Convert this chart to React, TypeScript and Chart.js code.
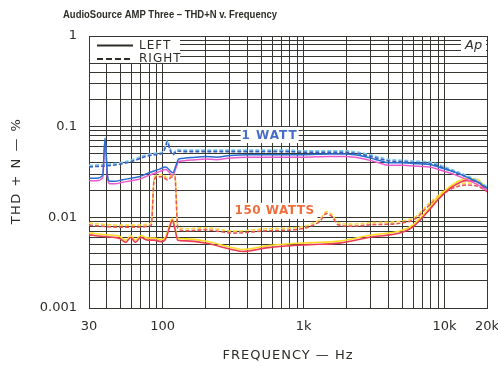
import React, { useEffect, useRef } from "react";
import { Chart, registerables } from "chart.js";

Chart.register(...registerables);

const TITLE = "AudioSource AMP Three – THD+N v. Frequency";
const X_TITLE = "FREQUENCY — Hz";
const Y_TITLE = "THD + N — %";
const LEGEND_LABELS = ["LEFT", "RIGHT"];
const LABEL_1W = "1 WATT";
const LABEL_150W = "150 WATTS";

const xLabelValues = [30, 100, 1000, 10000, 20000];
const xLabelTexts = ["30", "100", "1k", "10k", "20k"];
const yLabelValues = [0.001, 0.01, 0.1, 1];
const yLabelTexts = ["0.001", "0.01", "0.1", "1"];

const xGrid = [
  30, 40, 50, 60, 70, 80, 90,
  100, 200, 300, 400, 500, 600, 700, 800, 900,
  1000, 2000, 3000, 4000, 5000, 6000, 7000, 8000, 9000,
  10000, 20000,
];
const yGrid = [
  0.001, 0.002, 0.003, 0.004, 0.005, 0.006, 0.007, 0.008, 0.009,
  0.01, 0.02, 0.03, 0.04, 0.05, 0.06, 0.07, 0.08, 0.09,
  0.1, 0.2, 0.3, 0.4, 0.5, 0.6, 0.7, 0.8, 0.9,
  1,
];

// 1 WATT, LEFT (solid)
const freq1L = [30, 34, 37.5, 39, 40.5, 42, 46, 52, 60, 68, 76, 85, 95, 105, 112, 118, 124, 130, 145, 170, 200, 240, 300, 400, 600, 800, 1000, 1500, 2000, 2500, 3000, 3500, 4000, 5000, 6500, 8000, 9500, 11500, 13500, 15000, 17500, 20000];
const thd1L = [0.027, 0.027, 0.029, 0.075, 0.03, 0.025, 0.025, 0.026, 0.027, 0.028, 0.03, 0.032, 0.034, 0.036, 0.033, 0.031, 0.037, 0.044, 0.045, 0.046, 0.047, 0.046, 0.048, 0.049, 0.049, 0.049, 0.049, 0.05, 0.05, 0.048, 0.045, 0.042, 0.04, 0.04, 0.039, 0.038, 0.035, 0.032, 0.029, 0.027, 0.024, 0.021];

// 1 WATT, RIGHT (dashed)
const freq1R = [30, 40, 52, 65, 76, 88, 100, 104, 108, 112, 118, 127, 140, 170, 200, 300, 500, 800, 1000, 1500, 2000, 2500, 3000, 3500, 4000, 5000, 6500, 8000, 9500, 11500, 13500, 15000, 17500, 20000];
const thd1R = [0.036, 0.037, 0.039, 0.043, 0.047, 0.049, 0.051, 0.058, 0.068, 0.057, 0.049, 0.054, 0.053, 0.053, 0.053, 0.053, 0.053, 0.053, 0.052, 0.052, 0.052, 0.05, 0.047, 0.044, 0.042, 0.041, 0.04, 0.039, 0.036, 0.032, 0.029, 0.027, 0.024, 0.021];

// 150 WATTS, LEFT (solid)
const freq150L = [30, 39.5, 49, 54.7, 59.3, 64, 69.8, 78, 87, 97, 105, 112, 117, 122, 128, 146, 200, 314, 370, 544, 710, 1100, 1800, 3100, 4800, 6000, 7400, 9200, 11500, 14200, 17100, 20000];
const thd150L = [0.0064, 0.0061, 0.0059, 0.0053, 0.006, 0.0053, 0.006, 0.0056, 0.0056, 0.0054, 0.0058, 0.0078, 0.0093, 0.0075, 0.0056, 0.0055, 0.0052, 0.0044, 0.0042, 0.0046, 0.0048, 0.005, 0.0052, 0.0061, 0.0067, 0.0079, 0.011, 0.0163, 0.022, 0.0254, 0.0249, 0.019];

// 150 WATTS, RIGHT (dashed)
const freq150R = [30, 49, 64, 83, 87, 92, 100, 108, 117, 122, 128, 146, 200, 314, 544, 933, 1100, 1300, 1450, 1600, 1750, 2200, 3100, 4800, 6300, 7400, 9200, 11500, 14200, 17100, 20000];
const thd150R = [0.0082, 0.0078, 0.0078, 0.0082, 0.026, 0.028, 0.028, 0.0259, 0.028, 0.028, 0.0076, 0.0071, 0.0073, 0.0067, 0.0071, 0.0074, 0.0079, 0.009, 0.011, 0.0101, 0.0083, 0.008, 0.0083, 0.0086, 0.0098, 0.0126, 0.017, 0.021, 0.0227, 0.022, 0.0195];

const toPoints = (xs: number[], ys: number[]) => xs.map((x, i) => ({ x, y: ys[i] }));

const INK = "rgb(45,45,40)";
const GRID = "rgb(55,55,50)";

const shadowPlugin = {
  id: "lineShadow",
  beforeDatasetDraw(chart: any, args: any) {
    const ds = chart.data.datasets[args.index];
    const ctx = chart.ctx;
    ctx.save();
    ctx.shadowColor = ds.shadowColor || "transparent";
    ctx.shadowOffsetX = 0;
    ctx.shadowOffsetY = ds.shadowOffsetY || 0;
    ctx.shadowBlur = 0;
  },
  afterDatasetDraw(chart: any) {
    chart.ctx.restore();
  },
};

const decorPlugin = {
  id: "decor",
  beforeDatasetsDraw(chart: any) {
    const { ctx, chartArea: a, scales } = chart;
    const xs = scales.x;
    const ys = scales.y;
    ctx.save();
    // legend box
    ctx.fillStyle = "#fff";
    ctx.fillRect(a.left + 1, a.top + 1, 90, 26);
    ctx.strokeStyle = INK;
    ctx.lineWidth = 2;
    ctx.beginPath();
    ctx.moveTo(a.left + 8, a.top + 9.5);
    ctx.lineTo(a.left + 44, a.top + 9.5);
    ctx.stroke();
    ctx.setLineDash([6, 3]);
    ctx.beginPath();
    ctx.moveTo(a.left + 8, a.top + 23);
    ctx.lineTo(a.left + 44, a.top + 23);
    ctx.stroke();
    ctx.setLineDash([]);
    ctx.fillStyle = INK;
    ctx.font = "12px 'DejaVu Sans'";
    (ctx as any).letterSpacing = "1px";
    ctx.textAlign = "left";
    ctx.textBaseline = "middle";
    ctx.fillText(LEGEND_LABELS[0], a.left + 50, a.top + 10);
    ctx.fillText(LEGEND_LABELS[1], a.left + 50, a.top + 23);
    (ctx as any).letterSpacing = "0px";

    // Ap logo
    ctx.fillStyle = "#fff";
    ctx.fillRect(a.right - 26, a.top + 1, 25, 19);
    ctx.fillStyle = INK;
    ctx.font = "italic 13px 'DejaVu Sans'";
    ctx.fillText("Ap", a.right - 22, a.top + 10);

    // 1 WATT label
    const x1 = xs.getPixelForValue(574);
    const y1 = ys.getPixelForValue(0.081);
    ctx.fillStyle = "#fff";
    ctx.fillRect(x1 - 29, y1 - 8, 58, 16);
    ctx.fillStyle = "rgb(70,110,200)";
    ctx.font = "bold 12px 'DejaVu Sans'";
    (ctx as any).letterSpacing = "1px";
    ctx.textAlign = "center";
    ctx.fillText(LABEL_1W, x1, y1 + 0.5);

    // 150 WATTS label
    const x2 = xs.getPixelForValue(622);
    const y2 = ys.getPixelForValue(0.0118);
    ctx.fillStyle = "#fff";
    ctx.fillRect(x2 - 43, y2 - 8, 86, 16);
    ctx.fillStyle = "rgb(240,110,60)";
    (ctx as any).letterSpacing = "0.5px";
    ctx.fillText(LABEL_150W, x2, y2 + 0.5);
    (ctx as any).letterSpacing = "0px";
    ctx.restore();
  },
  afterDraw(chart: any) {
    const { ctx, chartArea: a } = chart;
    ctx.save();
    ctx.fillStyle = INK;
    ctx.textBaseline = "middle";
    // title
    ctx.font = "bold 10px 'Liberation Sans'";
    ctx.textAlign = "left";
    ctx.fillText(TITLE, 63, 15, 214);
    // x title
    ctx.font = "13px 'DejaVu Sans'";
    (ctx as any).letterSpacing = "1px";
    ctx.textAlign = "center";
    ctx.fillText(X_TITLE, (a.left + a.right) / 2, 356);
    // y title
    ctx.translate(17, 171);
    ctx.rotate(-Math.PI / 2);
    (ctx as any).letterSpacing = "1.5px";
    ctx.fillText(Y_TITLE, 0, 0);
    ctx.restore();
  },
};

export default function App() {
  const ref = useRef<HTMLCanvasElement>(null);
  useEffect(() => {
    if (!ref.current) return;
    const chart = new Chart(ref.current, {
      type: "line",
      data: {
        datasets: [
          {
            label: "1 W Left",
            data: toPoints(freq1L, thd1L),
            borderColor: "rgb(40,110,205)",
            borderWidth: 1.5,
            shadowColor: "rgb(235,90,205)",
            shadowOffsetY: 2.5,
          } as any,
          {
            label: "1 W Right",
            data: toPoints(freq1R, thd1R),
            borderColor: "rgb(60,95,190)",
            borderWidth: 1.6,
            borderDash: [4, 2],
            shadowColor: "rgb(120,200,235)",
            shadowOffsetY: -1.5,
          } as any,
          {
            label: "150 W Left",
            data: toPoints(freq150L, thd150L),
            borderColor: "rgb(235,60,85)",
            borderWidth: 1.6,
            shadowColor: "rgb(255,220,40)",
            shadowOffsetY: -2,
          } as any,
          {
            label: "150 W Right",
            data: toPoints(freq150R, thd150R),
            borderColor: "rgb(235,85,80)",
            borderWidth: 1.6,
            borderDash: [4, 2],
            shadowColor: "rgb(255,215,60)",
            shadowOffsetY: -2,
          } as any,
        ],
      },
      options: {
        responsive: false,
        animation: false,
        events: [],
        elements: {
          point: { radius: 0 },
          line: { cubicInterpolationMode: "monotone", fill: false },
        },
        layout: { padding: { top: 36, right: 0, left: 0, bottom: 0 } },
        plugins: {
          legend: { display: false },
          title: { display: false },
          tooltip: { enabled: false },
        },
        scales: {
          x: {
            type: "logarithmic",
            min: 30,
            max: 20000,
            afterBuildTicks: (scale: any) => {
              scale.ticks = xGrid.map((v) => ({ value: v }));
            },
            afterFit: (scale: any) => {
              scale.height = 58;
              scale.paddingLeft = 0;
              scale.paddingRight = 11;
            },
            grid: { color: GRID, lineWidth: 1, drawTicks: false },
            border: { color: GRID, width: 1 },
            ticks: {
              autoSkip: false,
              maxRotation: 0,
              padding: 11,
              color: INK,
              font: { family: "'DejaVu Sans'", size: 13 },
              callback: (value: any) => {
                const i = xLabelValues.indexOf(Number(value));
                return i >= 0 ? xLabelTexts[i] : "";
              },
            },
          },
          y: {
            type: "logarithmic",
            min: 0.001,
            max: 1,
            afterBuildTicks: (scale: any) => {
              scale.ticks = yGrid.map((v) => ({ value: v }));
            },
            afterFit: (scale: any) => {
              scale.width = 89;
              scale.paddingTop = 0;
              scale.paddingBottom = 0;
            },
            grid: { color: GRID, lineWidth: 1, drawTicks: false },
            border: { color: GRID, width: 1 },
            ticks: {
              autoSkip: false,
              padding: 12,
              color: INK,
              font: { family: "'DejaVu Sans'", size: 13 },
              callback: (value: any) => {
                const i = yLabelValues.indexOf(Number(value));
                return i >= 0 ? yLabelTexts[i] : "";
              },
            },
          },
        },
      } as any,
      plugins: [shadowPlugin, decorPlugin],
    });
    return () => chart.destroy();
  }, []);
  return (
    <div style={{ position: "absolute", left: 0, top: 0, width: 498, height: 366, background: "#fff" }}>
      <canvas ref={ref} width={498} height={366} style={{ display: "block", width: 498, height: 366 }} />
    </div>
  );
}
